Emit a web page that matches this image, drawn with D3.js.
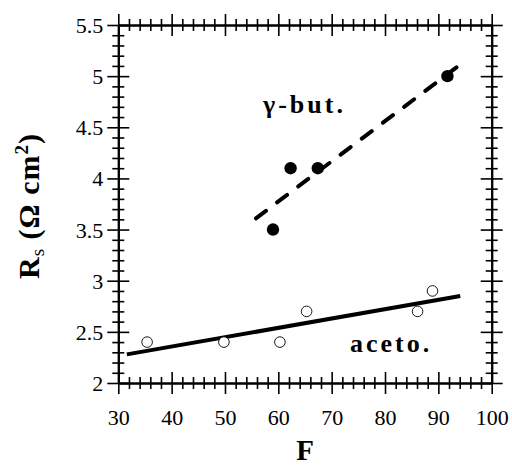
<!DOCTYPE html>
<html>
<head>
<meta charset="utf-8">
<script src="https://cdn.jsdelivr.net/npm/d3@7"></script>
<style>
  body { margin: 0; background: #fff; }
  svg { display: block; }
</style>
</head>
<body>
<div id="chart"></div>
<script>
// data
let butF = [59, 62.3, 67.4, 91.7],
    butRs = [3.5, 4.1, 4.1, 5.0],
    acetoF = [35.4, 49.8, 60.3, 65.3, 86.1, 88.9],
    acetoRs = [2.4, 2.4, 2.4, 2.7, 2.7, 2.9],
    butFitF = [55.8, 95.3],
    butFitRs = [3.61, 5.16],
    acetoFitF = [31.6, 94.1],
    acetoFitRs = [2.28, 2.85],
    xMajor = [30, 40, 50, 60, 70, 80, 90, 100],
    yMajor = [2, 2.5, 3, 3.5, 4, 4.5, 5, 5.5];

let serif = 'Liberation Serif';

let width = 512,
    height = 465,
    padding = {top: 25, left: 118.3, right: 20.3, bottom: 82},
    innerW = width - padding.left - padding.right,
    innerH = height - padding.top - padding.bottom,
    majorLen = 11,
    minorLen = 6;

let xMinor = d3.range(30, 100.1, 2).filter(d => d % 10 !== 0),
    yMinor = d3.range(20, 55.1, 1).filter(d => d % 5 !== 0).map(d => d / 10);

let x = d3.scaleLinear().domain([30, 100]).range([0, innerW]);
let y = d3.scaleLinear().domain([2, 5.5]).range([innerH, 0]);

let svg = d3.select('#chart').append('svg')
    .attr('width', width)
    .attr('height', height)
    .attr('font-family', serif);

let plot = svg.append('g')
    .attr('transform', `translate(${padding.left},${padding.top})`);

// one tick set on one side; ticks cross the frame line
function ticks(make, scale, values, len, pos, vertical, fmt) {
  let g = plot.append('g')
      .attr('transform', pos)
      .call(make(scale).tickValues(values).tickSizeInner(len).tickSizeOuter(0).tickFormat(fmt || (() => '')));
  g.attr('font-family', serif);
  g.selectAll('.tick line')
      .attr(vertical ? 'x1' : 'y1', -len)
      .attr(vertical ? 'x2' : 'y2', len)
      .attr('stroke', '#000')
      .attr('stroke-width', 1.6);
  g.select('.domain').attr('stroke', '#000').attr('stroke-width', 2);
  g.selectAll('.tick text')
      .attr('font-size', 22)
      .attr('font-family', serif)
      .attr('fill', '#000');
  return g;
}

let sides = [
  [d3.axisLeft, y, yMajor, yMinor, 'translate(0,0)', true, d3.format('~g')],
  [d3.axisRight, y, yMajor, yMinor, `translate(${innerW},0)`, true, null],
  [d3.axisBottom, x, xMajor, xMinor, `translate(0,${innerH})`, false, d3.format('d')],
  [d3.axisTop, x, xMajor, xMinor, 'translate(0,0)', false, null]
];

sides.forEach(([make, scale, major, minor, pos, vertical, fmt], i) => {
  ticks(make, scale, minor, minorLen, pos, vertical, null);
  let g = ticks(make, scale, major, majorLen, pos, vertical, fmt);
  if (i == 0) g.selectAll('.tick text').attr('x', -15).attr('dy', '0.34em');
  if (i == 2) g.selectAll('.tick text').attr('y', 42).attr('dy', 0);
});

// fit lines
let line = d3.line().x(d => x(d[0])).y(d => y(d[1]));

plot.append('path')
    .datum(d3.zip(acetoFitF, acetoFitRs))
    .attr('d', line)
    .attr('fill', 'none')
    .attr('stroke', '#000')
    .attr('stroke-width', 4);

plot.append('path')
    .datum(d3.zip(butFitF, butFitRs))
    .attr('d', line)
    .attr('fill', 'none')
    .attr('stroke', '#000')
    .attr('stroke-width', 4)
    .attr('stroke-linecap', 'round')
    .attr('stroke-dasharray', '12.5,14');

// points
plot.append('g').selectAll('circle')
    .data(d3.zip(acetoF, acetoRs))
    .enter()
    .append('circle')
    .attr('cx', d => x(d[0]))
    .attr('cy', d => y(d[1]))
    .attr('r', 5.3)
    .attr('fill', '#fff')
    .attr('stroke', '#000')
    .attr('stroke-width', 0.9);

plot.append('g').selectAll('circle')
    .data(d3.zip(butF, butRs))
    .enter()
    .append('circle')
    .attr('cx', d => x(d[0]))
    .attr('cy', d => y(d[1]))
    .attr('r', 6.2)
    .attr('fill', '#000');

// series labels
svg.append('text')
    .attr('x', 263)
    .attr('y', 113)
    .attr('font-family', serif)
    .attr('font-size', 26)
    .attr('font-weight', 'bold')
    .attr('letter-spacing', 3)
    .text('γ-but.');

svg.append('text')
    .attr('x', 350)
    .attr('y', 352)
    .attr('font-family', serif)
    .attr('font-size', 26)
    .attr('font-weight', 'bold')
    .attr('letter-spacing', 3)
    .text('aceto.');

// axis titles
svg.append('text')
    .attr('x', padding.left + x(65))
    .attr('y', 460)
    .attr('text-anchor', 'middle')
    .attr('font-family', serif)
    .attr('font-size', 29)
    .attr('font-weight', 'bold')
    .text('F');

let yt = svg.append('text')
    .attr('transform', 'translate(39,206) rotate(-90)')
    .attr('text-anchor', 'middle')
    .attr('font-family', serif)
    .attr('font-size', 30)
    .attr('font-weight', 'bold')
    .attr('letter-spacing', 1);
yt.append('tspan').text('R');
yt.append('tspan').attr('dy', 5).attr('font-size', 19).attr('font-weight', 'normal').text('s');
yt.append('tspan').attr('dy', -5).text(' (Ω cm');
yt.append('tspan').attr('dy', -11).attr('font-size', 19).text('2');
yt.append('tspan').attr('dy', 11).text(')');
</script>
</body>
</html>
